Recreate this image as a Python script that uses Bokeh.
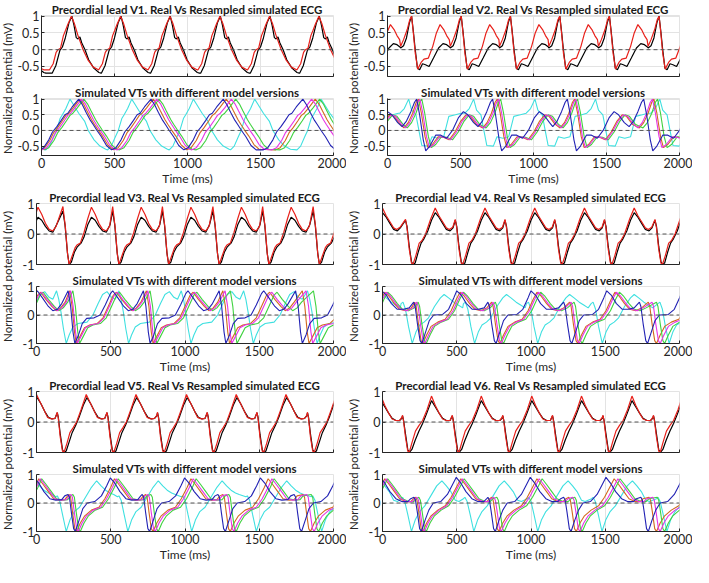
import math
from bokeh.plotting import figure
from bokeh.layouts import row, column
from bokeh.models import Span, Label, FixedTicker, PrintfTickFormatter
from bokeh.embed import file_html
from bokeh.resources import INLINE

# ---------------- texts / ticks ----------------
TIME_TICKS = [0, 500, 1000, 1500, 2000]
TICKS_V12 = [-0.5, 0, 0.5, 1]
TICKS_V36 = [-1, 0, 1]
RANGE_V12 = (-0.8, 1.02)
RANGE_V36 = (-1.0, 1.0)
TOP_TITLES = ["Precordial lead V1. Real Vs Resampled simulated ECG",
              "Precordial lead V2. Real Vs Resampled simulated ECG",
              "Precordial lead V3. Real Vs Resampled simulated ECG",
              "Precordial lead V4. Real Vs Resampled simulated ECG",
              "Precordial lead V5. Real Vs Resampled simulated ECG",
              "Precordial lead V6. Real Vs Resampled simulated ECG"]
BOTTOM_TITLE = "Simulated VTs with different model versions"
Y_LABEL = "Normalized potential (mV)"
X_LABEL = "Time (ms)"

# ---------------- data: one beat shape (ms from the beat, value) + beat times ----------------
# V1
V1_REAL_BEATS = [-170, 208, 545, 882, 1225, 1565, 1903, 2242]
V1_REAL_WAVE = [(-135, -0.70), (-110, -0.48), (-82, -0.02), (-65, 0.08), (-45, 0.35), (-20, 0.8), (0, 1.0), (15, 0.72),
                (30, 0.36), (42, 0.32), (55, 0.38), (68, 0.2), (90, 0.0), (115, -0.3), (150, -0.55), (185, -0.68), (200, -0.70)]
V1_SIM_BEATS = [-170, 205, 542, 880, 1222, 1562, 1900, 2240]
V1_SIM_WAVE = [(-150, -0.6), (-125, -0.42), (-105, -0.08), (-92, 0.0), (-75, 0.04), (-55, 0.42), (-40, 0.58), (-25, 0.75),
               (0, 1.0), (20, 0.78), (45, 0.42), (80, 0.0), (115, -0.32), (150, -0.52), (185, -0.6)]
V1_VT_BLUE_WAVE = [(-270, -0.62), (-240, -0.55), (-205, -0.3), (-180, -0.05), (-150, 0.12), (-120, 0.32), (-95, 0.5), (-75, 0.55),
                   (-45, 0.75), (0, 1.0), (25, 0.82), (50, 0.58), (80, 0.32), (100, 0.18), (125, 0.0), (155, -0.2), (190, -0.48), (225, -0.62)]
V1_VT_OTHER_WAVE = [(-270, -0.62), (-240, -0.55), (-205, -0.32), (-180, -0.08), (-150, 0.1), (-120, 0.3), (-95, 0.48), (-75, 0.55),
                    (-45, 0.72), (0, 1.0), (25, 0.85), (50, 0.62), (80, 0.35), (100, 0.2), (125, 0.02), (155, -0.18), (190, -0.45), (225, -0.6)]
V1_BLUE_BEATS = [-245, 255, 750, 1245, 1790, 2300]
V1_ORANGE_BEATS = [-238, 262, 765, 1265, 1875, 2390]
V1_MAGENTA_BEATS = [-228, 275, 790, 1300, 1850, 2360]
V1_GREEN_BEATS = [-215, 290, 805, 1330, 1905, 2420]
V1_CYAN_BEATS = [-230, 195, 618, 1040, 1460, 1915, 2340]
V1_CYAN_WAVE = [(-165, -0.62), (-140, -0.5), (-112, -0.2), (-92, 0.0), (-68, 0.38), (-52, 0.5), (-28, 0.7), (0, 1.0), (20, 0.85),
                (60, 0.55), (100, 0.3), (125, 0.0), (165, -0.3), (205, -0.5), (245, -0.6)]

# V2
V2_REAL_BEATS = [-175, 165, 505, 842, 1180, 1520, 1860, 2200]
V2_REAL_WAVE = [(-75, 0.05), (-55, 0.12), (-35, 0.35), (-15, 0.8), (0, 1.0), (12, 0.55), (25, 0.0), (40, -0.55), (55, -0.6),
                (75, -0.42), (95, -0.45), (120, -0.5), (150, -0.25), (185, 0.05), (215, 0.18), (240, 0.15), (260, 0.08)]
V2_SIM_BEATS = [-175, 165, 505, 842, 1180, 1520, 1860, 2200]
V2_SIM_WAVE = [(-75, 0.1), (-55, 0.3), (-30, 0.6), (-12, 0.9), (0, 1.0), (12, 0.5), (25, -0.1), (42, -0.58), (65, -0.38),
               (85, -0.28), (115, -0.25), (145, 0.1), (170, 0.5), (195, 0.75), (220, 0.6), (240, 0.42), (258, 0.3)]
V2_VT_BLUE_WAVE = [(-100, 0.12), (-70, 0.3), (-40, 0.6), (-15, 0.9), (0, 1.0), (20, 0.5), (45, -0.3), (62, -0.65), (90, -0.5),
                   (130, -0.15), (165, -0.15), (205, -0.25), (245, 0.0), (285, 0.4), (320, 0.6), (350, 0.5), (390, 0.25)]
V2_VT_OTHER_WAVE = [(-100, 0.08), (-70, 0.25), (-40, 0.55), (-15, 0.9), (0, 1.0), (20, 0.55), (45, -0.2), (65, -0.55), (95, -0.45),
                    (135, -0.2), (170, -0.22), (210, -0.3), (250, -0.05), (290, 0.3), (325, 0.5), (355, 0.45), (395, 0.2)]
V2_BLUE_BEATS = [-320, 200, 720, 1232, 1755, 2270]
V2_ORANGE_BEATS = [-310, 212, 752, 1282, 1825, 2340]
V2_MAGENTA_BEATS = [-300, 222, 762, 1290, 1815, 2330]
V2_GREEN_BEATS = [-290, 235, 775, 1302, 1850, 2370]
V2_CYAN_BEATS = [-285, 145, 590, 1010, 1425, 1865, 2300]
V2_CYAN_WAVE = [(-60, 0.55), (-30, 0.7), (0, 1.0), (20, 0.65), (50, 0.5), (70, 0.0), (90, -0.48), (135, -0.5), (160, -0.2),
                (200, -0.25), (240, -0.2), (275, 0.45), (320, 0.5), (360, 0.55)]

# V3
V3_REAL_BEATS = [-140, 220, 555, 890, 1230, 1565, 1905, 2240]
V3_REAL_WAVE = [(-42, 0.75), (-28, 0.3), (-12, -0.6), (0, -1.0), (15, -0.92), (35, -0.6), (55, -0.42), (80, -0.3), (100, -0.1),
                (125, 0.3), (150, 0.55), (175, 0.45), (200, 0.25), (225, 0.1), (250, 0.06), (275, 0.3)]
V3_SIM_BEATS = [-140, 220, 555, 890, 1230, 1565, 1905, 2240]
V3_SIM_WAVE = [(-42, 0.9), (-25, 0.2), (-10, -0.7), (0, -1.0), (20, -0.72), (40, -0.45), (55, -0.35), (75, -0.3), (100, 0.05),
               (125, 0.5), (150, 0.88), (175, 0.65), (200, 0.35), (225, 0.15), (250, 0.1), (272, 0.25)]
V3_VT_BLUE_WAVE = [(-45, 0.85), (-28, 0.3), (-12, -0.6), (0, -1.0), (25, -0.7), (50, -0.3), (80, -0.12), (130, -0.1), (170, 0.0),
                   (205, 0.35), (240, 0.75), (255, 0.85), (290, 0.6), (330, 0.3), (360, 0.15), (390, 0.2), (420, 0.4)]
V3_VT_OTHER_WAVE = [(-45, 0.85), (-28, 0.3), (-12, -0.6), (0, -1.0), (25, -0.75), (55, -0.45), (90, -0.35), (140, -0.3), (180, -0.1),
                    (215, 0.3), (250, 0.7), (270, 0.8), (305, 0.55), (345, 0.3), (375, 0.15), (405, 0.25), (435, 0.45)]
V3_BLUE_BEATS = [-250, 258, 765, 1275, 1790, 2300]
V3_ORANGE_BEATS = [-242, 268, 785, 1300, 1835, 2350]
V3_MAGENTA_BEATS = [-235, 275, 795, 1315, 1860, 2380]
V3_GREEN_BEATS = [-225, 290, 810, 1350, 1910, 2430]
V3_CYAN_BEATS = [-220, 200, 620, 1040, 1460, 1890, 2310]
V3_CYAN_WAVE = [(-65, 0.85), (-50, 0.55), (-35, 0.1), (-18, -0.5), (0, -1.0), (20, -0.7), (45, -0.42), (80, -0.3), (140, -0.25),
                (180, 0.0), (215, 0.4), (245, 0.72), (275, 0.82), (305, 0.62), (330, 0.55)]

# V4
V4_REAL_BEATS = [-150, 205, 540, 875, 1210, 1545, 1885, 2220]
V4_REAL_WAVE = [(-50, 0.45), (-40, 0.25), (-25, -0.4), (-10, -0.9), (0, -1.0), (15, -0.95), (35, -0.6), (55, -0.3), (75, -0.15),
                (100, 0.1), (125, 0.45), (150, 0.7), (175, 0.55), (200, 0.35), (225, 0.15), (250, 0.1), (270, 0.2)]
V4_SIM_BEATS = [-150, 205, 540, 875, 1210, 1545, 1885, 2220]
V4_SIM_WAVE = [(-50, 0.48), (-40, 0.2), (-25, -0.5), (-10, -0.95), (0, -1.0), (20, -0.7), (42, -0.3), (60, -0.22), (85, 0.0),
               (120, 0.5), (150, 0.85), (175, 0.6), (200, 0.4), (225, 0.2), (245, 0.15), (268, 0.22)]
V4_VT_BLUE_WAVE = [(-55, 0.45), (-45, 0.3), (-30, -0.3), (-12, -0.9), (0, -1.0), (25, -0.6), (50, -0.2), (80, 0.0), (140, 0.02),
                   (180, 0.2), (215, 0.6), (235, 0.85), (265, 0.7), (300, 0.4), (340, 0.2), (380, 0.2), (420, 0.25)]
V4_VT_OTHER_WAVE = [(-55, 0.45), (-45, 0.3), (-30, -0.3), (-12, -0.9), (0, -1.0), (25, -0.7), (55, -0.4), (100, -0.25), (150, -0.15),
                    (190, 0.15), (225, 0.55), (250, 0.8), (280, 0.65), (315, 0.4), (350, 0.2), (390, 0.15), (430, 0.25)]
V4_BLUE_BEATS = [-240, 265, 765, 1275, 1785, 2290]
V4_ORANGE_BEATS = [-235, 272, 790, 1315, 1845, 2360]
V4_MAGENTA_BEATS = [-225, 285, 800, 1325, 1870, 2390]
V4_GREEN_BEATS = [-215, 295, 815, 1345, 1900, 2420]
V4_CYAN_BEATS = [-220, 200, 620, 1045, 1480, 1930, 2360]
V4_CYAN_WAVE = [(-75, 0.4), (-62, 0.45), (-45, 0.2), (-25, -0.4), (0, -1.0), (25, -0.6), (50, -0.35), (80, -0.25), (110, -0.1),
                (150, 0.3), (190, 0.6), (215, 0.72), (245, 0.6), (280, 0.45), (310, 0.35), (340, 0.25)]

# V5
V5_REAL_BEATS = [-150, 185, 520, 860, 1195, 1530, 1870, 2205]
V5_REAL_WAVE = [(-45, 0.3), (-38, 0.15), (-25, -0.4), (-10, -0.9), (0, -1.0), (15, -0.95), (35, -0.65), (55, -0.35), (80, -0.1),
                (105, 0.2), (130, 0.55), (155, 0.8), (180, 0.6), (205, 0.35), (230, 0.15), (255, 0.1), (275, 0.12), (290, 0.2)]
V5_SIM_BEATS = [-150, 185, 520, 860, 1195, 1530, 1870, 2205]
V5_SIM_WAVE = [(-45, 0.32), (-38, 0.12), (-25, -0.5), (-10, -0.95), (0, -1.0), (20, -0.7), (40, -0.35), (60, -0.2), (85, 0.0),
               (115, 0.4), (150, 0.9), (175, 0.65), (200, 0.4), (225, 0.15), (250, 0.1), (275, 0.12), (290, 0.22)]
V5_VT_BLUE_WAVE = [(-50, 0.3), (-40, 0.2), (-28, -0.3), (-12, -0.9), (0, -1.0), (25, -0.6), (50, -0.2), (80, 0.0), (130, 0.05),
                   (175, 0.25), (210, 0.6), (235, 0.88), (265, 0.7), (300, 0.4), (340, 0.15), (380, 0.1), (420, 0.12), (440, 0.25)]
V5_VT_OTHER_WAVE = [(-50, 0.3), (-40, 0.2), (-28, -0.3), (-12, -0.9), (0, -1.0), (25, -0.7), (55, -0.45), (100, -0.25), (150, -0.15),
                    (190, 0.15), (230, 0.55), (255, 0.85), (285, 0.65), (320, 0.4), (355, 0.15), (395, 0.1), (430, 0.12), (450, 0.25)]
V5_BLUE_BEATS = [-250, 262, 762, 1272, 1785, 2290]
V5_ORANGE_BEATS = [-240, 270, 785, 1305, 1845, 2360]
V5_MAGENTA_BEATS = [-230, 282, 800, 1330, 1870, 2390]
V5_GREEN_BEATS = [-220, 295, 820, 1345, 1900, 2420]
V5_CYAN_BEATS = [-215, 200, 615, 1045, 1480, 1920, 2350]
V5_CYAN_WAVE = [(-70, 0.22), (-60, 0.25), (-45, 0.1), (-25, -0.4), (0, -1.0), (25, -0.6), (55, -0.3), (90, -0.15), (130, 0.2),
                (170, 0.55), (205, 0.78), (235, 0.6), (265, 0.45), (295, 0.35), (320, 0.3)]

# V6
V6_REAL_BEATS = [-160, 180, 515, 855, 1190, 1530, 1870, 2210]
V6_REAL_WAVE = [(-45, 0.2), (-38, 0.05), (-25, -0.4), (-10, -0.9), (0, -1.0), (18, -0.9), (40, -0.6), (65, -0.3), (90, -0.05),
                (115, 0.25), (150, 0.7), (175, 0.5), (200, 0.3), (225, 0.12), (250, 0.05), (275, 0.05), (290, 0.12)]
V6_SIM_BEATS = [-160, 180, 515, 855, 1190, 1530, 1870, 2210]
V6_SIM_WAVE = [(-45, 0.22), (-38, 0.02), (-25, -0.5), (-10, -0.95), (0, -1.0), (20, -0.65), (42, -0.3), (65, -0.12), (90, 0.05),
               (120, 0.4), (150, 0.85), (175, 0.55), (200, 0.3), (225, 0.1), (250, 0.05), (275, 0.05), (290, 0.15)]
V6_VT_BLUE_WAVE = [(-50, 0.2), (-40, 0.1), (-28, -0.3), (-12, -0.9), (0, -1.0), (25, -0.6), (50, -0.25), (80, 0.0), (130, 0.05),
                   (175, 0.3), (210, 0.65), (235, 0.9), (265, 0.7), (300, 0.4), (340, 0.15), (380, 0.05), (420, 0.05), (440, 0.15)]
V6_VT_OTHER_WAVE = [(-50, 0.2), (-40, 0.1), (-28, -0.3), (-12, -0.9), (0, -1.0), (25, -0.7), (55, -0.45), (100, -0.25), (150, -0.1),
                    (190, 0.2), (230, 0.6), (255, 0.85), (285, 0.65), (320, 0.4), (355, 0.15), (395, 0.05), (430, 0.05), (450, 0.15)]
V6_BLUE_BEATS = [-250, 262, 760, 1270, 1790, 2290]
V6_ORANGE_BEATS = [-240, 272, 785, 1305, 1845, 2360]
V6_MAGENTA_BEATS = [-230, 282, 800, 1330, 1870, 2390]
V6_GREEN_BEATS = [-220, 295, 820, 1345, 1900, 2420]
V6_CYAN_BEATS = [-220, 195, 615, 1045, 1478, 1915, 2350]
V6_CYAN_WAVE = [(-70, 0.15), (-60, 0.2), (-45, 0.05), (-25, -0.4), (0, -1.0), (25, -0.6), (55, -0.3), (90, -0.1), (130, 0.25),
                (170, 0.6), (205, 0.78), (235, 0.6), (265, 0.4), (295, 0.1), (320, 0.05)]

# ---------------- styling ----------------
FONT = "Lato"
C_REAL = "#000000"
C_SIM = "#e8201a"
C_ORANGE = "#d2691e"
C_GREEN = "#3fd23f"
C_MAGENTA = "#e633e6"
C_BLUE = "#2222b4"
C_CYAN = "#3fe0e0"
AX_COLOR = "#262626"
GRID_COLOR = "#e3e3e3"

FRAME_W = 297
FRAME_H = 64
BL, BR = 22, 13
YLAB_W = 14
TOP_BT, TOP_BB = 12, 7
BOT_BT, BOT_BB = 11, 30
GROUP_H = TOP_BT + FRAME_H + TOP_BB + BOT_BT + FRAME_H + BOT_BB


def assemble(beats, wave):
    xs, ys = [], []
    first = wave[0][0]
    for i, b in enumerate(beats):
        limit = beats[i + 1] + first if i + 1 < len(beats) else float("inf")
        for ph, v in wave:
            t = b + ph
            if ph > 0 and t >= limit:
                break
            xs.append(t)
            ys.append(v)
    return xs, ys


def base_fig(yr, yticks, bt, bb, title, show_labels):
    p = figure(width=BL + FRAME_W + BR, height=bt + FRAME_H + bb, x_range=(0, 2000), y_range=yr,
               toolbar_location=None, output_backend="svg", title=title,
               min_border_left=BL, min_border_right=BR, min_border_top=bt, min_border_bottom=bb)
    p.title.align = "center"
    p.title.text_font = FONT
    p.title.text_font_style = "bold"
    p.title.text_font_size = "11.5px"
    p.title.text_color = "#1a1a1a"
    p.title.standoff = 0
    p.title.offset = 0
    p.outline_line_color = GRID_COLOR
    p.background_fill_color = "white"
    p.border_fill_color = "white"
    p.xaxis.ticker = FixedTicker(ticks=TIME_TICKS)
    p.yaxis.ticker = FixedTicker(ticks=yticks)
    p.yaxis.formatter = PrintfTickFormatter(format="%g")
    for ax in (p.xaxis[0], p.yaxis[0]):
        ax.axis_line_color = AX_COLOR
        ax.major_tick_line_color = AX_COLOR
        ax.minor_tick_line_color = None
        ax.major_tick_in = 3
        ax.major_tick_out = 0
        ax.major_label_text_font = FONT
        ax.major_label_text_font_size = "12.5px"
        ax.major_label_text_color = AX_COLOR
        ax.major_label_standoff = 2
    if show_labels:
        p.xaxis.axis_label = X_LABEL
        p.xaxis.axis_label_text_font = FONT
        p.xaxis.axis_label_text_font_size = "12px"
        p.xaxis.axis_label_text_font_style = "normal"
        p.xaxis.axis_label_text_color = AX_COLOR
        p.xaxis.axis_label_standoff = 0
    else:
        p.xaxis.major_label_overrides = {t: "" for t in TIME_TICKS}
        p.xaxis.major_label_standoff = 0
    p.xgrid.grid_line_color = GRID_COLOR
    p.ygrid.grid_line_color = GRID_COLOR
    p.add_layout(Span(location=0, dimension="width", line_color="#555555", line_dash="4 3", line_width=1))
    return p


def ylabel_fig():
    f = figure(width=YLAB_W, height=GROUP_H, x_range=(0, 1), y_range=(0, 1), toolbar_location=None,
               output_backend="svg", title=None, min_border=0, x_axis_location=None, y_axis_location=None)
    f.outline_line_color = None
    f.grid.visible = False
    f.add_layout(Label(x=0.5, y=1 - 88 / GROUP_H, text=Y_LABEL, angle=math.pi / 2, text_align="center",
                       text_baseline="middle", text_font=FONT, text_font_size="11.5px", text_color=AX_COLOR))
    return f


LEADS = [
    (V1_REAL_BEATS, V1_REAL_WAVE, V1_SIM_BEATS, V1_SIM_WAVE, V1_VT_BLUE_WAVE, V1_VT_OTHER_WAVE,
     V1_BLUE_BEATS, V1_ORANGE_BEATS, V1_MAGENTA_BEATS, V1_GREEN_BEATS, V1_CYAN_BEATS, V1_CYAN_WAVE),
    (V2_REAL_BEATS, V2_REAL_WAVE, V2_SIM_BEATS, V2_SIM_WAVE, V2_VT_BLUE_WAVE, V2_VT_OTHER_WAVE,
     V2_BLUE_BEATS, V2_ORANGE_BEATS, V2_MAGENTA_BEATS, V2_GREEN_BEATS, V2_CYAN_BEATS, V2_CYAN_WAVE),
    (V3_REAL_BEATS, V3_REAL_WAVE, V3_SIM_BEATS, V3_SIM_WAVE, V3_VT_BLUE_WAVE, V3_VT_OTHER_WAVE,
     V3_BLUE_BEATS, V3_ORANGE_BEATS, V3_MAGENTA_BEATS, V3_GREEN_BEATS, V3_CYAN_BEATS, V3_CYAN_WAVE),
    (V4_REAL_BEATS, V4_REAL_WAVE, V4_SIM_BEATS, V4_SIM_WAVE, V4_VT_BLUE_WAVE, V4_VT_OTHER_WAVE,
     V4_BLUE_BEATS, V4_ORANGE_BEATS, V4_MAGENTA_BEATS, V4_GREEN_BEATS, V4_CYAN_BEATS, V4_CYAN_WAVE),
    (V5_REAL_BEATS, V5_REAL_WAVE, V5_SIM_BEATS, V5_SIM_WAVE, V5_VT_BLUE_WAVE, V5_VT_OTHER_WAVE,
     V5_BLUE_BEATS, V5_ORANGE_BEATS, V5_MAGENTA_BEATS, V5_GREEN_BEATS, V5_CYAN_BEATS, V5_CYAN_WAVE),
    (V6_REAL_BEATS, V6_REAL_WAVE, V6_SIM_BEATS, V6_SIM_WAVE, V6_VT_BLUE_WAVE, V6_VT_OTHER_WAVE,
     V6_BLUE_BEATS, V6_ORANGE_BEATS, V6_MAGENTA_BEATS, V6_GREEN_BEATS, V6_CYAN_BEATS, V6_CYAN_WAVE),
]


def group(i):
    (rb, rw, sb, sw, bw, ow, blb, orb, mab, grb, cyb, cyw) = LEADS[i]
    yr = RANGE_V12 if i < 2 else RANGE_V36
    yt = TICKS_V12 if i < 2 else TICKS_V36
    top = base_fig(yr, yt, TOP_BT, TOP_BB, TOP_TITLES[i], False)
    x, y = assemble(rb, rw)
    top.line(x, y, line_color=C_REAL, line_width=1.2)
    x, y = assemble(sb, sw)
    top.line(x, y, line_color=C_SIM, line_width=1.2)
    bot = base_fig(yr, yt, BOT_BT, BOT_BB, BOTTOM_TITLE, True)
    for beats, wave, col in ((cyb, cyw, C_CYAN), (orb, ow, C_ORANGE), (grb, ow, C_GREEN),
                             (mab, ow, C_MAGENTA), (blb, bw, C_BLUE)):
        x, y = assemble(beats, wave)
        bot.line(x, y, line_color=col, line_width=1.1)
    return row(ylabel_fig(), column(top, bot))


layout = column(row(group(0), group(1)), row(group(2), group(3)), row(group(4), group(5)))
open("out.html", "w").write(file_html(layout, INLINE))
